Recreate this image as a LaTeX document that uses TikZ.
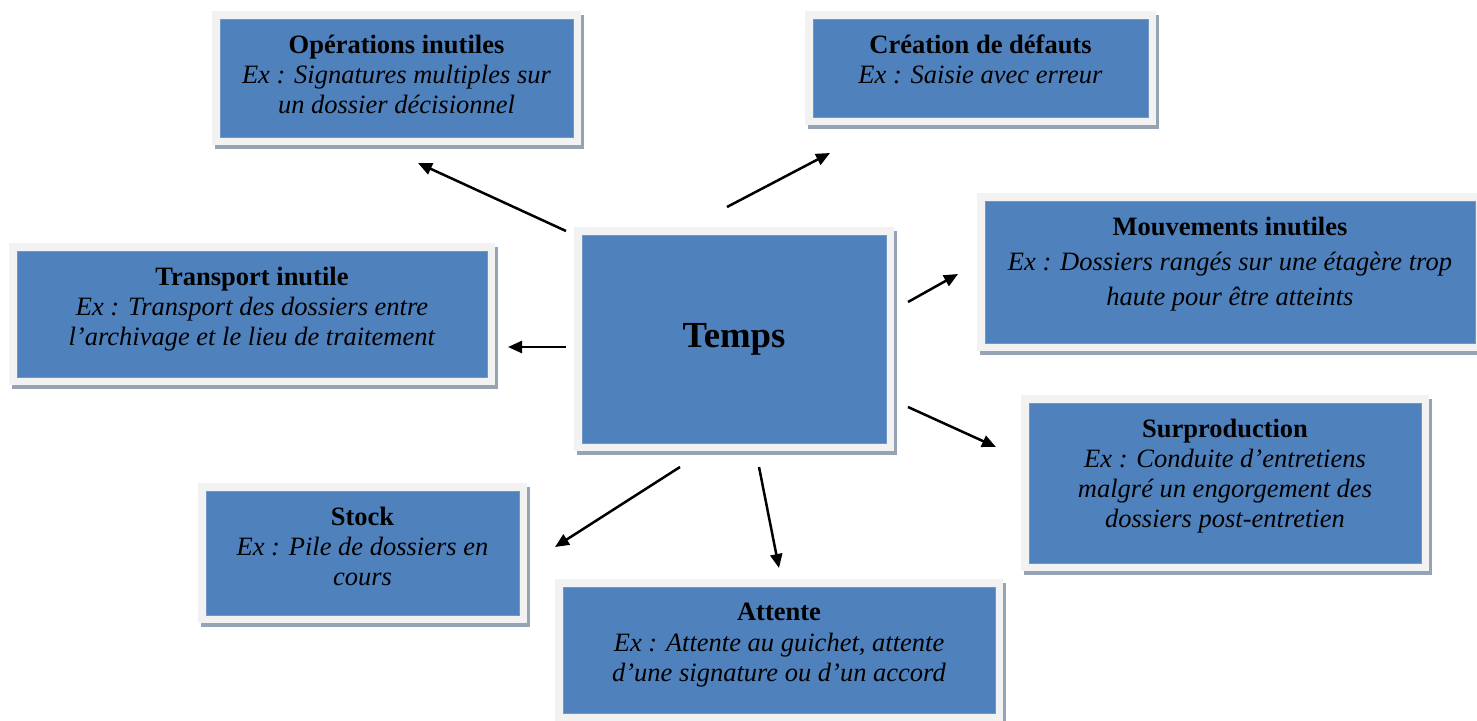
\documentclass[tikz,border=0pt]{standalone}
\usepackage{fontspec}
\setmainfont{Liberation Serif}
\usetikzlibrary{arrows.meta,calc,backgrounds}
\definecolor{boxblue}{HTML}{4F81BD}
\definecolor{boxedge}{HTML}{7196C8}
\definecolor{framegray}{HTML}{F2F2F2}
\definecolor{shadowgray}{HTML}{96A3B5}
\tikzset{
  box/.style={fill=boxblue, draw=boxedge, line width=0.8pt, inner sep=0pt, outer sep=0pt},
  boxtext/.style={anchor=north, align=center, inner sep=0pt, text=black,
    font=\fontsize{26.5}{30}\selectfont},
  arr/.style={line width=2.5pt, -{Triangle[length=14pt,width=12pt]}},
}
\newcommand{\myframe}[1]{%
  \fill[shadowgray] ($(#1.north west)+(-5,-4)$) rectangle ($(#1.south east)+(11,12)$);
  \fill[framegray] ($(#1.north west)+(-8,-8)$) rectangle ($(#1.south east)+(8,8)$);
}
\begin{document}
\begin{tikzpicture}[x=1pt,y=-1pt]
\useasboundingbox (0,0) rectangle (1477,720);
\clip (0,0) rectangle (1477,720);

% boxes
\node[box, minimum width=353, minimum height=118] (op) at (396.5,78) {};
\node[box, minimum width=335, minimum height=98]  (cr) at (980.5,68) {};
\node[box, minimum width=490, minimum height=142] (mv) at (1230,272) {};
\node[box, minimum width=470, minimum height=126] (tr) at (252,314) {};
\node[box, minimum width=304, minimum height=208] (tp) at (734,339) {};
\node[box, minimum width=392, minimum height=160] (su) at (1225,483) {};
\node[box, minimum width=313, minimum height=124] (st) at (362.5,553) {};
\node[box, minimum width=432, minimum height=126] (at) at (779,650) {};

\begin{scope}[on background layer]
  \myframe{op}\myframe{cr}\myframe{mv}\myframe{tr}
  \myframe{tp}\myframe{su}\myframe{st}\myframe{at}
\end{scope}

% texts
\node[boxtext] (opt) at ($(op.north)+(0,13)$)
  {\strut\textbf{Opérations inutiles}\\ \textit{Ex : Signatures multiples sur}\\ \textit{un dossier décisionnel}};
\node[boxtext] (crt) at ($(cr.north)+(0,13)$)
  {\strut\textbf{Création de défauts}\\ \textit{Ex : Saisie avec erreur}};
\node[boxtext, font=\fontsize{26.5}{35}\selectfont] (mvt) at ($(mv.north)+(0,9.5)$)
  {\strut\textbf{Mouvements inutiles}\\ \textit{Ex : Dossiers rangés sur une étagère trop}\\ \textit{haute pour être atteints}};
\node[boxtext] (trt) at ($(tr.north)+(0,13)$)
  {\strut\textbf{Transport inutile}\\ \textit{Ex : Transport des dossiers entre}\\ \textit{l’archivage et le lieu de traitement}};
\node[font=\fontsize{36.7}{40}\selectfont\bfseries, inner sep=0pt] (tpt) at (tp.center) {Temps};
\node[boxtext] (sut) at ($(su.north)+(0,13)$)
  {\strut\textbf{Surproduction}\\ \textit{Ex : Conduite d’entretiens}\\ \textit{malgré un engorgement des}\\ \textit{dossiers post-entretien}};
\node[boxtext] (stt) at ($(st.north)+(0,13)$)
  {\strut\textbf{Stock}\\ \textit{Ex : Pile de dossiers en}\\ \textit{cours}};
\node[boxtext, font=\fontsize{26.5}{30.5}\selectfont] (att) at ($(at.north)+(0,12)$)
  {\strut\textbf{Attente}\\ \textit{Ex : Attente au guichet, attente}\\ \textit{d’une signature ou d’un accord}};

% arrow end points
\coordinate (a1s) at (566,231); \coordinate (a1e) at (418,163);
\coordinate (a2s) at (727,207); \coordinate (a2e) at (830,153);
\coordinate (a3s) at (566,347); \coordinate (a3e) at (508,347);
\coordinate (a4s) at (908,302); \coordinate (a4e) at (958,274);
\coordinate (a5s) at (908,407); \coordinate (a5e) at (996,447);
\coordinate (a6s) at (680,467); \coordinate (a6e) at (555,547);
\coordinate (a7s) at (759,467); \coordinate (a7e) at (779,568);

\draw[arr] (a1s) -- (a1e);
\draw[arr] (a2s) -- (a2e);
\draw[arr] (a3s) -- (a3e);
\draw[arr] (a4s) -- (a4e);
\draw[arr] (a5s) -- (a5e);
\draw[arr] (a6s) -- (a6e);
\draw[arr] (a7s) -- (a7e);
\end{tikzpicture}
\end{document}
